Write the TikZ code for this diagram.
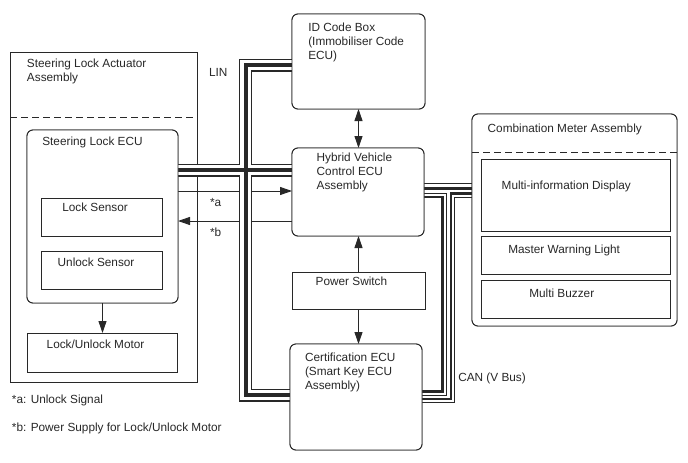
\documentclass[tikz,border=0pt]{standalone}
\usepackage{fontspec}
\setmainfont{Liberation Sans}
\usetikzlibrary{arrows.meta,calc}
\definecolor{ln}{RGB}{40,40,40}
\begin{document}
\begin{tikzpicture}[x=1pt,y=-1pt,
  every node/.style={font=\fontsize{11.8}{14}\selectfont, text=ln},
  sq/.style={draw=ln, line width=0.9pt, fill=white, inner sep=0pt, outer sep=0pt, anchor=north west},
  rd/.style={sq, rounded corners=6pt},
  lbl/.style={anchor=base west, inner sep=0pt, outer sep=0pt},
  arr/.style={draw=ln, line width=0.9pt, -{Triangle[length=12pt,width=8pt]}},
  darr/.style={draw=ln, line width=0.9pt, {Triangle[length=12pt,width=8pt]}-{Triangle[length=12pt,width=8pt]}},
  dsh/.style={draw=ln, line width=0.9pt, dash pattern=on 7pt off 4pt},
  busA/.style={draw=ln, line width=13pt},
  busB/.style={draw=white, line width=10.8pt},
  busC/.style={draw=ln, line width=4pt},
  thk/.style={draw=ln, line width=2.6pt},
  thn/.style={draw=ln, line width=1pt}
]
\useasboundingbox (0,0) rectangle (688,463);
\fill[white] (0,0) rectangle (688,463);

% outer assembly box
\node[sq, fill=none, minimum width=187pt, minimum height=330pt] (slaa) at (10,52) {};
\coordinate (slaadL) at (10,117);
\draw[dsh] (slaadL) -- (slaadL -| slaa.east);

% central boxes (positions, redrawn later)
\node[rd, minimum width=151pt, minimum height=173pt] (slecu) at (27,130) {};
\node[sq, minimum width=150pt, minimum height=39pt] (motor) at (27,333) {};
\node[rd, minimum width=133pt, minimum height=95pt] (id) at (292,14) {};
\node[rd, minimum width=132pt, minimum height=88pt] (hv) at (292,148) {};
\node[sq, minimum width=133pt, minimum height=37pt] (ps) at (292,272) {};
\node[rd, minimum width=132pt, minimum height=106pt] (cert) at (290,344) {};
\node[rd, fill=none, minimum width=205pt, minimum height=212pt] (cm) at (472,114) {};

% signal arrows (drawn below the bus)
\coordinate (aL) at ($(slecu.north east)+(0,61)$);
\coordinate (bL) at ($(slecu.north east)+(0,91)$);
\draw[arr] (aL) -- (aL -| hv.west);
\draw[arr] (bL -| hv.west) -- (bL);

% LIN bus
\coordinate (linx) at (245.5,0);
\coordinate (idL) at ($(id.north west)+(0,51)$);
\coordinate (certL) at ($(cert.north west)+(0,51)$);
\coordinate (slR) at ($(slecu.north east)+(0,40)$);
\foreach \s in {busA,busB,busC}{
  \draw[\s] (idL) -- (idL -| linx) -- (certL -| linx) -- (certL);
  \draw[\s] (slR) -- (slR -| hv.west);
}

% CAN bus
\coordinate (c1) at (0,183.5);
\coordinate (c2) at (0,188.5);
\coordinate (c3) at (0,193.5);
\coordinate (c4) at (0,197);
\coordinate (x1) at (442.7,0);
\coordinate (x2) at (446.7,0);
\coordinate (x3) at (451,0);
\coordinate (x4) at (454.5,0);
\coordinate (b1) at (0,391.7);
\coordinate (b2) at (0,395.2);
\coordinate (b3) at (0,398.8);
\coordinate (b4) at (0,402.3);
\draw[thn] (c1 -| hv.east) -- (c1 -| cm.west);
\draw[thk] (c2 -| hv.east) -- (c2 -| cm.west);
\draw[thk] (c4 -| hv.east) -- (c4 -| x1) -- (b1 -| x1) -- (b1 -| cert.east);
\draw[thn] (c3 -| hv.east) -- (c3 -| x2) -- (b2 -| x2) -- (b2 -| cert.east);
\draw[thk] (c3 -| cm.west) -- (c3 -| x3) -- (b3 -| x3) -- (b3 -| cert.east);
\draw[thn] (c4 -| cm.west) -- (c4 -| x4) -- (b4 -| x4) -- (b4 -| cert.east);

% boxes on top of bus ends
\node[rd, minimum width=151pt, minimum height=173pt] (slecu2) at (27,130) {};
\node[sq, minimum width=121pt, minimum height=38pt] (lsen) at (41,198) {};
\node[sq, minimum width=121pt, minimum height=38pt] (usen) at (41,251) {};
\node[rd, minimum width=133pt, minimum height=95pt] (id2) at (292,14) {};
\node[rd, minimum width=132pt, minimum height=88pt] (hv2) at (292,148) {};
\node[rd, minimum width=132pt, minimum height=106pt] (cert2) at (290,344) {};
\node[rd, minimum width=205pt, minimum height=212pt] (cm2) at (472,114) {};
\coordinate (cmdL) at (472,152);
\draw[dsh] (cmdL) -- (cmdL -| cm.east);
\node[sq, minimum width=189pt, minimum height=72pt] (mid) at (481,159) {};
\node[sq, minimum width=189pt, minimum height=38pt] (mwl) at (481,236) {};
\node[sq, minimum width=189pt, minimum height=38pt] (mb) at (481,280) {};

% vertical arrows
\draw[arr] (slecu.south) -- (slecu.south |- motor.north);
\draw[darr] (id.south) -- (id.south |- hv.north);
\draw[arr] (ps.north) -- (ps.north |- hv.south);
\draw[arr] (ps.south) -- (ps.south |- cert.north);

% labels
\node[lbl] (t1) at (27,67.5) {Steering Lock Actuator};
\node[lbl] (t2) at (27,81.7) {Assembly};
\node[lbl] (t3) at (42.3,145) {Steering Lock ECU};
\node[lbl] (t4) at (62.3,211.8) {Lock Sensor};
\node[lbl] (t5) at (57.7,266.8) {Unlock Sensor};
\node[lbl] (t6) at (46.7,348.5) {Lock/Unlock Motor};
\node[lbl] (t7) at (12,403.5) {*a: Unlock Signal};
\node[lbl] (t8) at (12,431.5) {*b: Power Supply for Lock/Unlock Motor};
\node[lbl] (t9) at (209,76) {LIN};
\node[lbl] (t10) at (210,206) {*a};
\node[lbl] (t11) at (210,236) {*b};
\node[lbl] (t12) at (308.3,31) {ID Code Box};
\node[lbl] (t13) at (308.3,45) {(Immobiliser Code};
\node[lbl] (t14) at (308.3,59) {ECU)};
\node[lbl] (t15) at (316.7,161) {Hybrid Vehicle};
\node[lbl] (t16) at (316.7,175) {Control ECU};
\node[lbl] (t17) at (316.7,189) {Assembly};
\node[lbl] (t18) at (315.7,285.8) {Power Switch};
\node[lbl] (t19) at (305,361) {Certification ECU};
\node[lbl] (t20) at (305,375) {(Smart Key ECU};
\node[lbl] (t21) at (305,389) {Assembly)};
\node[lbl] (t22) at (458.3,381) {CAN (V Bus)};
\node[lbl] (t23) at (487.7,132.5) {Combination Meter Assembly};
\node[lbl] (t24) at (501.7,189) {Multi-information Display};
\node[lbl] (t25) at (508.3,253.5) {Master Warning Light};
\node[lbl] (t26) at (529.3,297.5) {Multi Buzzer};
\end{tikzpicture}
\end{document}
